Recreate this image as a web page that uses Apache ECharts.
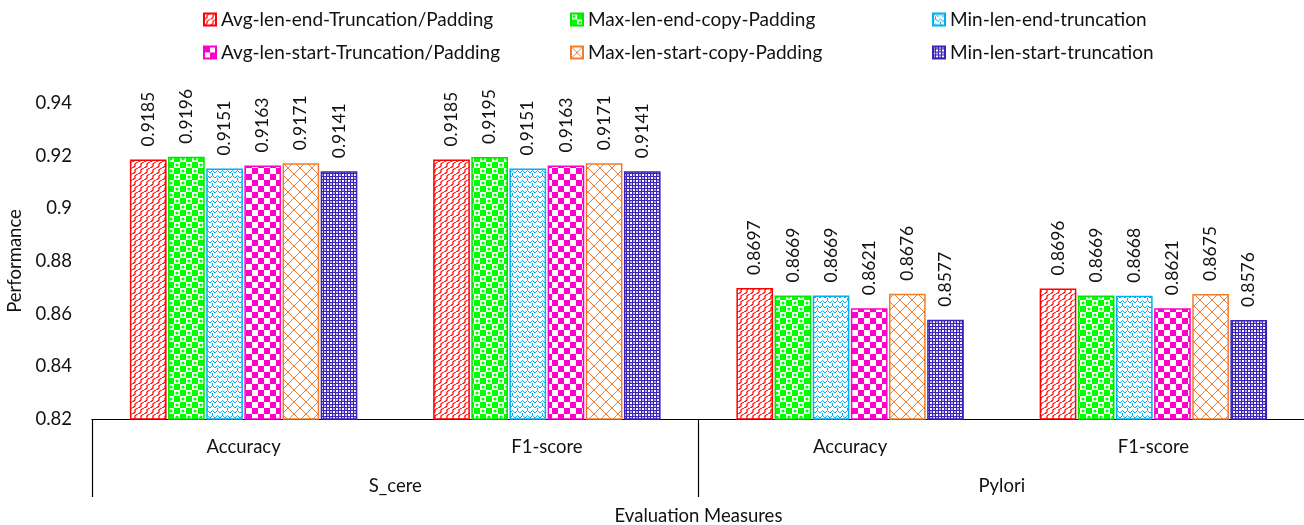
<!DOCTYPE html>
<html>
<head>
<meta charset="utf-8">
<script src="https://cdn.jsdelivr.net/npm/echarts@6/dist/echarts.min.js"></script>
<style>
html,body{margin:0;padding:0;background:#fff;}
#chart{width:1304px;height:525px;}
</style>
</head>
<body>
<div id="chart"></div>
<script>
// Measures per dataset (first two belong to S_cere, last two to Pylori)
var categories = ['Accuracy', 'F1-score', 'Accuracy', 'F1-score'];
var groups = ['S_cere', 'Pylori'];
var seriesNames = [
  'Avg-len-end-Truncation/Padding',
  'Max-len-end-copy-Padding',
  'Min-len-end-truncation',
  'Avg-len-start-Truncation/Padding',
  'Max-len-start-copy-Padding',
  'Min-len-start-truncation'
];
var avgEnd   = [0.9185, 0.9185, 0.8697, 0.8696];
var maxEnd   = [0.9196, 0.9195, 0.8669, 0.8669];
var minEnd   = [0.9151, 0.9151, 0.8669, 0.8668];
var avgStart = [0.9163, 0.9163, 0.8621, 0.8621];
var maxStart = [0.9171, 0.9171, 0.8676, 0.8675];
var minStart = [0.9141, 0.9141, 0.8577, 0.8576];
var yTicks = [0.82, 0.84, 0.86, 0.88, 0.9, 0.92, 0.94];

var FONT = 'Lato';

function makeCanvas(w, h, draw) {
  var c = document.createElement('canvas');
  c.width = w; c.height = h;
  var ctx = c.getContext('2d');
  ctx.fillStyle = '#fff';
  ctx.fillRect(0, 0, w, h);
  draw(ctx);
  return { image: c, repeat: 'repeat' };
}

// Fill textures for each series
var patterns = [
  // red wavy diagonals
  makeCanvas(6, 6, function (ctx) {
    ctx.strokeStyle = '#ff0000';
    ctx.lineWidth = 1.1;
    for (var k = -6; k <= 12; k += 6) {
      ctx.beginPath();
      ctx.moveTo(k - 6, 6);
      ctx.quadraticCurveTo(k - 2, 4, k - 3, 3);
      ctx.quadraticCurveTo(k - 4, 2, k, 0);
      ctx.stroke();
    }
  }),
  // green squares with dots
  makeCanvas(12, 12, function (ctx) {
    ctx.fillStyle = '#00ff00';
    ctx.fillRect(0, 0, 12, 12);
    ctx.fillStyle = '#fff';
    ctx.fillRect(0, 0, 6, 6);
    ctx.fillRect(6, 6, 6, 6);
    ctx.fillStyle = '#00ff00';
    ctx.beginPath();
    ctx.arc(3, 3, 1.6, 0, Math.PI * 2);
    ctx.arc(9, 9, 1.6, 0, Math.PI * 2);
    ctx.fill();
  }),
  // cyan weave
  makeCanvas(10, 10, function (ctx) {
    ctx.strokeStyle = '#00b0f0';
    ctx.lineWidth = 1;
    ctx.beginPath();
    ctx.moveTo(0, 3); ctx.lineTo(2.5, 0.5); ctx.lineTo(5, 3); ctx.lineTo(7.5, 0.5); ctx.lineTo(10, 3);
    ctx.moveTo(0, 8); ctx.lineTo(2.5, 5.5); ctx.lineTo(5, 8); ctx.lineTo(7.5, 5.5); ctx.lineTo(10, 8);
    ctx.moveTo(2.5, 3); ctx.lineTo(2.5, 6);
    ctx.moveTo(7.5, 8); ctx.lineTo(7.5, 10);
    ctx.stroke();
  }),
  // magenta checkerboard
  makeCanvas(12, 12, function (ctx) {
    ctx.fillStyle = '#ff00cc';
    ctx.fillRect(0, 0, 6, 6);
    ctx.fillRect(6, 6, 6, 6);
  }),
  // orange diamond lattice
  makeCanvas(12, 12, function (ctx) {
    ctx.strokeStyle = '#f07d2e';
    ctx.lineWidth = 1;
    ctx.beginPath();
    ctx.moveTo(0, 0); ctx.lineTo(12, 12);
    ctx.moveTo(12, 0); ctx.lineTo(0, 12);
    ctx.stroke();
  }),
  // indigo small checks
  makeCanvas(6, 6, function (ctx) {
    ctx.fillStyle = '#3d22b8';
    ctx.fillRect(0, 0, 6, 6);
    ctx.fillStyle = '#fff';
    ctx.fillRect(0, 0, 2, 2);
    ctx.fillRect(3, 3, 2, 2);
    ctx.fillStyle = '#b8aee6';
    ctx.fillRect(3, 0, 2, 2);
    ctx.fillRect(0, 3, 2, 2);
  })
];
var borderColors = ['#ff0000', '#00e600', '#00b0f0', '#ff00cc', '#f07d2e', '#3d22b8'];
var values = [avgEnd, maxEnd, minEnd, avgStart, maxStart, minStart];

var series = values.map(function (vals, i) {
  return {
    name: seriesNames[i],
    type: 'bar',
    xAxisIndex: 0,
    data: vals,
    barGap: '4%',
    barCategoryGap: '25%',
    itemStyle: {
      color: patterns[i],
      borderColor: borderColors[i],
      borderWidth: 1.5
    },
    label: {
      show: true,
      position: 'top',
      rotate: 90,
      align: 'left',
      verticalAlign: 'middle',
      distance: 13,
      fontFamily: FONT,
      fontSize: 17.5,
      color: '#111',
      formatter: function (p) { return p.value.toFixed(4); }
    }
  };
});

var legendText = { fontFamily: FONT, fontSize: 19, color: '#111' };
function legendCol(left, names) {
  return {
    orient: 'vertical',
    left: left,
    top: 5,
    itemWidth: 12,
    itemHeight: 12,
    itemGap: 14,
    icon: 'rect',
    textStyle: legendText,
    data: names
  };
}

var chart = echarts.init(document.getElementById('chart'));
chart.setOption({
  animation: false,
  legend: [
    legendCol(198, [seriesNames[0], seriesNames[3]]),
    legendCol(565, [seriesNames[1], seriesNames[4]]),
    legendCol(927, [seriesNames[2], seriesNames[5]])
  ],
  grid: { left: 92, right: -1, top: 103, bottom: 106, containLabel: false, outerBoundsMode: 'none' },
  xAxis: [
    {
      type: 'category',
      data: categories,
      position: 'bottom',
      axisLine: { show: true, lineStyle: { color: '#000', width: 1.2 } },
      axisTick: { show: false },
      axisLabel: { margin: 19, fontFamily: FONT, fontSize: 18.5, color: '#111' },
      name: 'Evaluation Measures',
      nameLocation: 'middle',
      nameGap: 88,
      nameTextStyle: { fontFamily: FONT, fontSize: 18.5, color: '#111' }
    },
    {
      type: 'category',
      data: groups,
      position: 'bottom',
      axisLine: { show: false },
      axisTick: { show: true, length: 78, lineStyle: { color: '#000', width: 1.2 } },
      axisLabel: { margin: 58, fontFamily: FONT, fontSize: 18.5, color: '#111' }
    }
  ],
  yAxis: {
    type: 'value',
    min: yTicks[0],
    max: yTicks[yTicks.length - 1],
    interval: 0.02,
    axisLine: { show: false },
    axisTick: { show: false },
    splitLine: { show: false },
    axisLabel: {
      margin: 20,
      fontFamily: FONT,
      fontSize: 18.5,
      color: '#111',
      formatter: function (v) { return String(Math.round(v * 100) / 100); }
    },
    name: 'Performance',
    nameLocation: 'middle',
    nameRotate: 90,
    nameGap: 63,
    nameTextStyle: { fontFamily: FONT, fontSize: 18.5, color: '#111' }
  },
  series: series
});
</script>
</body>
</html>
